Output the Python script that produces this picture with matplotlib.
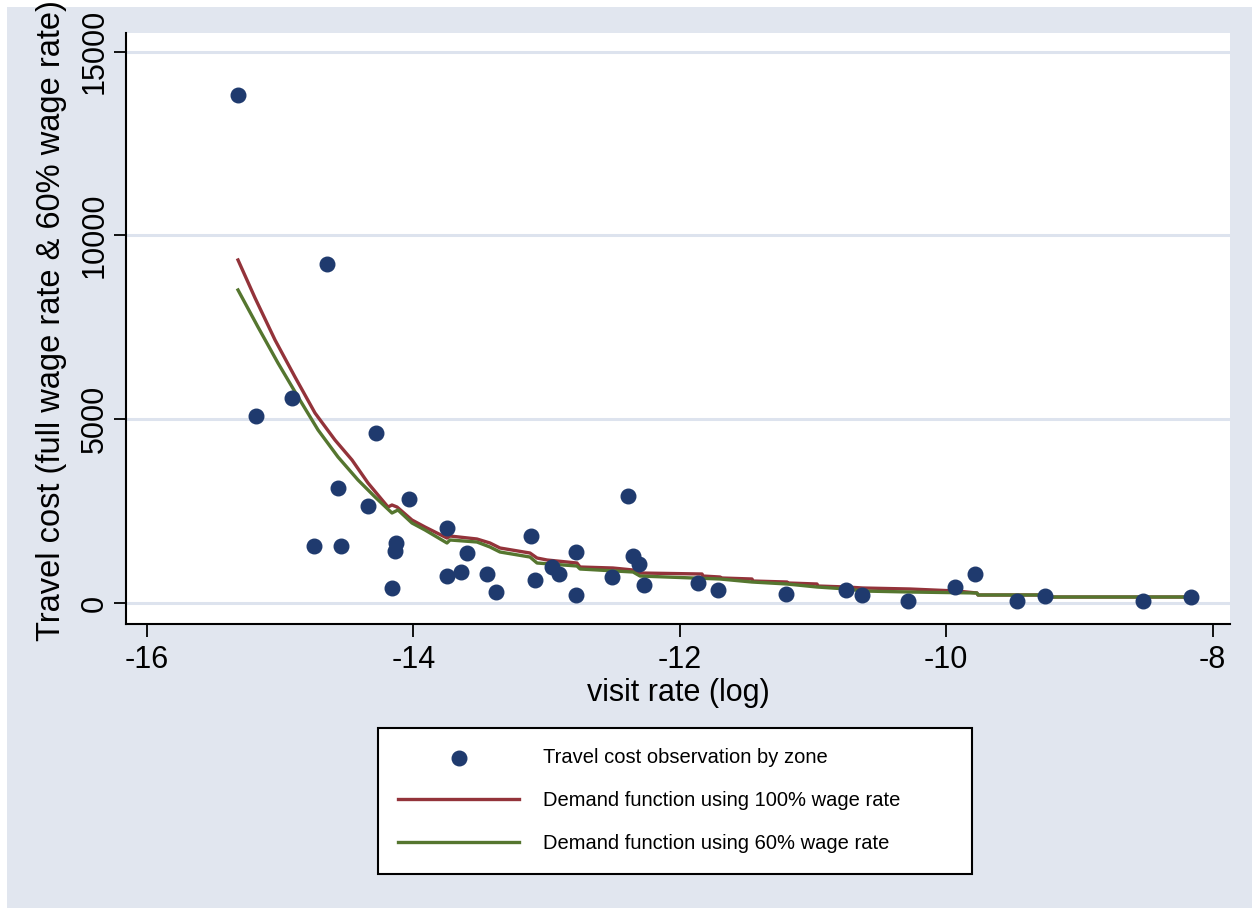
import numpy as np
import matplotlib.pyplot as plt
from matplotlib.patches import Rectangle

plt.rcParams['font.family'] = ['Liberation Sans', 'DejaVu Sans']

obs_x = [-15.32, -15.18, -14.91, -14.65, -14.57, -14.75, -14.54, -14.28, -14.34,
         -14.16, -14.13, -14.14, -14.03, -13.75, -13.75, -13.64, -13.60, -13.45,
         -13.38, -13.12, -13.09, -12.96, -12.91, -12.78, -12.78, -12.51, -12.39,
         -12.35, -12.31, -12.27, -11.86, -11.71, -11.20, -10.75, -10.63, -10.29,
         -9.93, -9.78, -9.47, -9.26, -8.52, -8.16]
obs_y = [13830, 5090, 5580, 9220, 3130, 1550, 1550, 4625, 2640,
         410, 1630, 1415, 2830, 2040, 735, 845, 1360, 790,
         300, 1820, 625, 980, 790, 1390, 220, 710, 2910,
         1280, 1060, 490, 545, 355, 245, 355, 220, 55,
         435, 790, 55, 190, 55, 165]

# fitted demand, 100% wage rate
red_x = [-15.317, -15.189, -15.039, -14.889, -14.739, -14.589, -14.461, -14.341,
         -14.191, -14.161, -14.123, -14.011, -13.913, -13.748, -13.725, -13.523,
         -13.425, -13.350, -13.125, -13.072, -12.997, -12.772, -12.749, -12.502,
         -12.351, -12.299, -11.833, -11.826, -11.698, -11.683, -11.458, -11.450,
         -11.195, -11.188, -10.970, -10.962, -10.745, -10.625, -10.272, -9.919,
         -9.769, -9.761, -9.243, -9.236, -8.170]
red_y = [9330, 8296, 7154, 6147, 5168, 4434, 3890, 3264,
         2611, 2666, 2611, 2258, 2067, 1768, 1822, 1741,
         1632, 1496, 1360, 1224, 1170, 1088, 979, 952,
         898, 816, 789, 734, 707, 680, 653, 598,
         571, 544, 517, 462, 435, 408, 381, 326,
         272, 218, 218, 163, 163]

# fitted demand, 60% wage rate
grn_x = [-15.317, -15.167, -15.017, -14.866, -14.716, -14.566, -14.416, -14.288,
         -14.161, -14.116, -14.011, -13.913, -13.748, -13.725, -13.523, -13.425,
         -13.350, -13.125, -13.072, -12.772, -12.749, -12.351, -12.299, -11.698,
         -11.458, -11.195, -10.970, -10.745, -10.625, -10.272, -9.769, -9.761,
         -9.243, -9.236, -8.170]
grn_y = [8514, 7507, 6528, 5603, 4706, 3971, 3346, 2883,
         2448, 2530, 2176, 1986, 1632, 1714, 1659, 1523,
         1387, 1251, 1088, 1006, 925, 843, 734, 653,
         571, 517, 435, 381, 326, 299, 272, 218,
         218, 163, 163]

xticks = [-16, -14, -12, -10, -8]
yticks = [0, 5000, 10000, 15000]

bg = '#e1e6ef'
navy = '#1f3a6e'
maroon = '#93333a'
green = '#55762f'

fig = plt.figure(figsize=(12.52, 9.09), dpi=100, facecolor='white')
fig.patches.append(Rectangle((7 / 1252, 1 / 909), 1245 / 1252, 901 / 909,
                             transform=fig.transFigure, facecolor=bg,
                             edgecolor='none', zorder=-10))

ax = fig.add_axes([126 / 1252, 1 - 624 / 909, 1104 / 1252, 591 / 909])
ax.set_facecolor('white')

ax.scatter(obs_x, obs_y, s=110, color=navy, zorder=3,
           label='Travel cost observation by zone')
ax.plot(red_x, red_y, color=maroon, lw=2.4, zorder=2,
        label='Demand function using 100% wage rate')
ax.plot(grn_x, grn_y, color=green, lw=2.4, zorder=2,
        label='Demand function using 60% wage rate')

ax.set_xlim(-16.158, -7.869)
ax.set_ylim(-571, 15504)
ax.set_xticks(xticks)
ax.set_yticks(yticks)
ax.set_xticklabels(['-16', '-14', '-12', '-10', '-8'])
ax.grid(axis='y', color='#dde3ee', lw=2.2, zorder=0)
ax.set_axisbelow(True)

for s in ['top', 'right']:
    ax.spines[s].set_visible(False)
for s in ['left', 'bottom']:
    ax.spines[s].set_linewidth(1.5)

ax.tick_params(axis='both', length=9, width=1.3, labelsize=22)
ax.tick_params(axis='x', pad=6)
ax.tick_params(axis='y', pad=3)
for t in ax.get_yticklabels():
    t.set_rotation(90)
    t.set_va('center')

ax.set_xlabel('visit rate (log)', fontsize=22, labelpad=2)
ax.set_ylabel('Travel cost (full wage rate & 60% wage rate)', fontsize=23.5)
ax.yaxis.set_label_coords(-0.053, 0.514)

leg = fig.legend(loc='upper left', bbox_to_anchor=(378 / 1252, 0, 594 / 1252, 1 - 728 / 909),
                 mode='expand', ncol=1, fontsize=14.5, frameon=True, fancybox=False,
                 framealpha=1, scatterpoints=1, handlelength=6.0, handletextpad=1.2,
                 labelspacing=1.2, borderpad=1.0, borderaxespad=0)
leg.get_frame().set_edgecolor('black')
leg.get_frame().set_linewidth(1.5)
leg.get_frame().set_facecolor('white')

fig.savefig('out.png', dpi=100, facecolor=fig.get_facecolor())
